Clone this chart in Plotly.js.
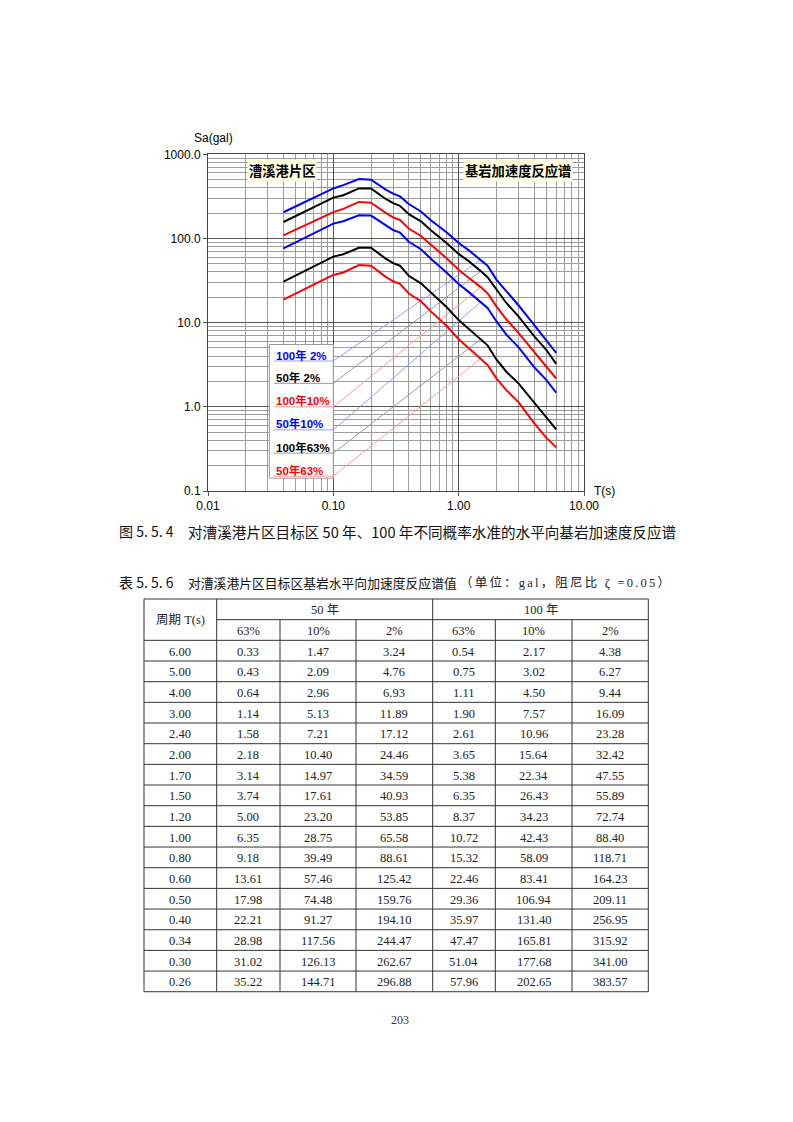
<!DOCTYPE html>
<html><head><meta charset="utf-8">
<script src="https://cdn.plot.ly/plotly-3.0.1.min.js"></script>
<style>html,body{margin:0;padding:0;background:#fff;}#chart{width:793px;height:1122px;}</style>
</head><body><div id="chart"></div>
<script>
// ---- Table values (gal), period T in seconds ----
const periodT  = [6.00,5.00,4.00,3.00,2.40,2.00,1.70,1.50,1.20,1.00,0.80,0.60,0.50,0.40,0.34,0.30,0.26];
const sa50y63  = [0.33,0.43,0.64,1.14,1.58,2.18,3.14,3.74,5.00,6.35,9.18,13.61,17.98,22.21,28.98,31.02,35.22];
const sa50y10  = [1.47,2.09,2.96,5.13,7.21,10.40,14.97,17.61,23.20,28.75,39.49,57.46,74.48,91.27,117.56,126.13,144.71];
const sa50y2   = [3.24,4.76,6.93,11.89,17.12,24.46,34.59,40.93,53.85,65.58,88.61,125.42,159.76,194.10,244.47,262.67,296.88];
const sa100y63 = [0.54,0.75,1.11,1.90,2.61,3.65,5.38,6.35,8.37,10.72,15.32,22.46,29.36,35.97,47.47,51.04,57.96];
const sa100y10 = [2.17,3.02,4.50,7.57,10.96,15.64,22.34,26.43,34.23,42.43,58.09,83.41,106.94,131.40,165.81,177.68,202.65];
const sa100y2  = [4.38,6.27,9.44,16.09,23.28,32.42,47.55,55.89,72.74,88.40,118.71,164.23,209.11,256.95,315.92,341.00,383.57];

// ---- Short-period part of the curves ----
const shortT      = [0.20,0.16,0.12,0.10,0.04];
const short50y63  = [47.4,48.3,39.5,36.9,18.8];
const short50y10  = [187,189,160,150,76.4];
const short50y2   = [393,393,326,306,157];
const short100y63 = [77.6,77.6,65.0,60.9,30.8];
const short100y10 = [266,272,225,206,109];
const short100y2  = [500,508,430,393,205];

// ---- Labels ----
const seriesLabels = ['100年 2%','50年 2%','100年10%','50年10%','100年63%','50年63%'];
const xTickVals = [0.01,0.1,1,10];
const xTickText = ['0.01','0.10','1.00','10.00'];
const yTickVals = [0.1,1,10,100,1000];
const yTickText = ['0.1','1.0','10.0','100.0','1000.0'];
const tableHeadYears = ['50 年','100 年'];
const tableHeadProb = ['63%','10%','2%','63%','10%','2%'];

// ---- Styles / positions ----
const W = 793, H = 1122;
const px = x => x / W, py = y => 1 - y / H;
const series = [
  {tab: sa100y2,  sh: short100y2,  color:'#0000ff', lead:'#9a9aff', level:3.50},
  {tab: sa50y2,   sh: short50y2,   color:'#000000', lead:'#9a9a9a', level:1.90},
  {tab: sa100y10, sh: short100y10, color:'#ff0000', lead:'#ff9a9a', level:1.00},
  {tab: sa50y10,  sh: short50y10,  color:'#0000ff', lead:'#9a9aff', level:0.532},
  {tab: sa100y63, sh: short100y63, color:'#000000', lead:'#9a9a9a', level:0.282},
  {tab: sa50y63,  sh: short50y63,  color:'#ff0000', lead:'#ff9a9a', level:0.150}
];
const leadT0 = 0.0335, leadT1 = 0.1, leadTarget = 1.5;

const traces = [];
// legend box
traces.push({x:[0.0309,0.1,0.1,0.0309,0.0309], y:[0.142,0.142,5.5,5.5,0.142], mode:'lines',
  fill:'toself', fillcolor:'#ffffff', line:{color:'#9a9a9a', width:1}, hoverinfo:'skip', showlegend:false});
// leader lines
series.forEach(s => {
  const idx = periodT.indexOf(leadTarget);
  traces.push({x:[leadT0, leadT1, leadTarget], y:[s.level, s.level, s.tab[idx]], mode:'lines',
    line:{color:s.lead, width:1}, hoverinfo:'skip', showlegend:false});
});
// curves
series.forEach((s,i) => {
  traces.push({x: periodT.concat(shortT), y: s.tab.concat(s.sh), mode:'lines', name: seriesLabels[i],
    line:{color:s.color, width:2}, showlegend:false});
});

const minorVals = (lo, hi) => { const v=[]; for(let d=lo; d<hi; d++) for(let k=2;k<=9;k++) v.push(k*Math.pow(10,d)); return v; };

const ann = [];
function txt(x, y, text, size, family, color, xanchor, extra) {
  ann.push(Object.assign({xref:'paper', yref:'paper', x:px(x), y:py(y), text, showarrow:false,
    font:{size, family, color}, xanchor: xanchor||'center', yanchor:'middle'}, extra||{}));
  return ann.length - 1;
}
const SANS = 'Liberation Sans, Arial, sans-serif';
const CJK = 'Noto Sans CJK SC, sans-serif';
const SERIF = 'Liberation Serif, Noto Sans CJK SC, serif';

// axis titles
txt(213, 137.5, 'Sa(gal)', 12, SANS, '#000');
txt(604, 491, 'T(s)', 12, SANS, '#000');
// corner labels
txt(281.7, 171, '<b>漕溪港片区</b>', 13.3, CJK, '#000', 'center', {bgcolor:'#ffffe0', borderpad:1});
txt(518.3, 170.5, '<b>基岩加速度反应谱</b>', 13.3, CJK, '#000', 'center', {bgcolor:'#ffffe0', borderpad:1});
// legend labels
series.forEach((s,i) => {
  ann.push({xref:'x', yref:'y', x:Math.log10(0.0338), y:Math.log10(s.level), yshift:6, text:'<b>'+seriesLabels[i]+'</b>',
    showarrow:false, xanchor:'left', yanchor:'middle', font:{size:11.5, family:'Liberation Sans, Noto Sans CJK SC, sans-serif', color:s.color}});
});
// captions
txt(117, 531, '图 5. 5. 4', 14, CJK, '#111', 'left');
txt(186, 531, '对漕溪港片区目标区 50 年、100 年不同概率水准的水平向基岩加速度反应谱', 14.6, CJK, '#111', 'left');
txt(117, 582, '表 5. 5. 6', 14, CJK, '#111', 'left');
txt(186, 582, '对漕溪港片区目标区基岩水平向加速度反应谱值', 12.8, CJK, '#111', 'left');
const unitIdx = txt(566, 582, '（单位：gal，阻尼比 ζ =0.05）', 12.5, SERIF, '#222', 'center');
txt(400, 1020, '203', 12, SERIF, '#333');

// ---- table ----
const shapes = [];
const colX = [144, 216.7, 280, 356, 432.7, 495.3, 572, 648.3];
const tTop = 599, rh = 20.67;
const nRows = periodT.length;
const tBottom = tTop + rh * (nRows + 2);
function hl(x0,x1,y){ shapes.push({type:'line', xref:'paper', yref:'paper', x0:px(x0), x1:px(x1), y0:py(y), y1:py(y), line:{color:'#333', width:1}}); }
function vl(x,y0,y1){ shapes.push({type:'line', xref:'paper', yref:'paper', x0:px(x), x1:px(x), y0:py(y0), y1:py(y1), line:{color:'#333', width:1}}); }
hl(colX[0], colX[7], tTop);
hl(colX[1], colX[7], tTop + rh);
for (let r = 2; r <= nRows + 2; r++) hl(colX[0], colX[7], tTop + rh * r);
vl(colX[0], tTop, tBottom); vl(colX[1], tTop, tBottom); vl(colX[4], tTop, tBottom); vl(colX[7], tTop, tBottom);
[2,3,5,6].forEach(c => vl(colX[c], tTop + rh, tBottom));
const cc = c => (colX[c] + colX[c+1]) / 2;
txt(cc(0), tTop + rh, '周期 T(s)', 12.5, SERIF, '#222');
txt((colX[1]+colX[4])/2, tTop + rh/2 + 1, tableHeadYears[0], 12.5, SERIF, '#222');
txt((colX[4]+colX[7])/2, tTop + rh/2 + 1, tableHeadYears[1], 12.5, SERIF, '#222');
tableHeadProb.forEach((t,i) => txt(cc(i+1), tTop + rh*1.5 + 1, t, 12.5, SERIF, '#222'));
const cols = [periodT, sa50y63, sa50y10, sa50y2, sa100y63, sa100y10, sa100y2];
for (let r = 0; r < nRows; r++) {
  const y = tTop + rh * (r + 2.5) + 1;
  cols.forEach((arr, c) => txt(cc(c), y, arr[r].toFixed(2), 12.5, SERIF, '#222'));
}

// widen the letter spacing of the unit note, as in the reference
const st = document.createElement('style');
st.textContent = '.annotation[data-index="' + unitIdx + '"] text{letter-spacing:2.2px;}';
document.head.appendChild(st);

const layout = {
  width: W, height: H, margin:{l:0,r:0,t:0,b:0}, paper_bgcolor:'#fff', plot_bgcolor:'#fff',
  showlegend:false,
  xaxis:{type:'log', range:[-2,1], domain:[208/W, 584/W], tickmode:'array', tickvals:xTickVals, ticktext:xTickText,
    ticks:'outside', ticklen:4, tickcolor:'#555', showgrid:true, gridcolor:'#555', gridwidth:1,
    showline:true, linecolor:'#444', mirror:true, zeroline:false,
    tickfont:{family:SANS, size:12, color:'#000'},
    minor:{tickmode:'array', tickvals:minorVals(-2,1), showgrid:true, gridcolor:'#9c9c9c', gridwidth:1, ticks:''}},
  yaxis:{type:'log', range:[-1,3], domain:[1-491/H, 1-154.3/H], tickmode:'array', tickvals:yTickVals, ticktext:yTickText,
    ticks:'outside', ticklen:4, tickcolor:'#555', showgrid:true, gridcolor:'#555', gridwidth:1,
    showline:true, linecolor:'#444', mirror:true, zeroline:false,
    tickfont:{family:SANS, size:12, color:'#000'},
    minor:{tickmode:'array', tickvals:minorVals(-1,3), showgrid:true, gridcolor:'#9c9c9c', gridwidth:1, ticks:''}},
  annotations: ann, shapes: shapes
};
Plotly.newPlot('chart', traces, layout, {staticPlot:true, displayModeBar:false});
</script></body></html>
